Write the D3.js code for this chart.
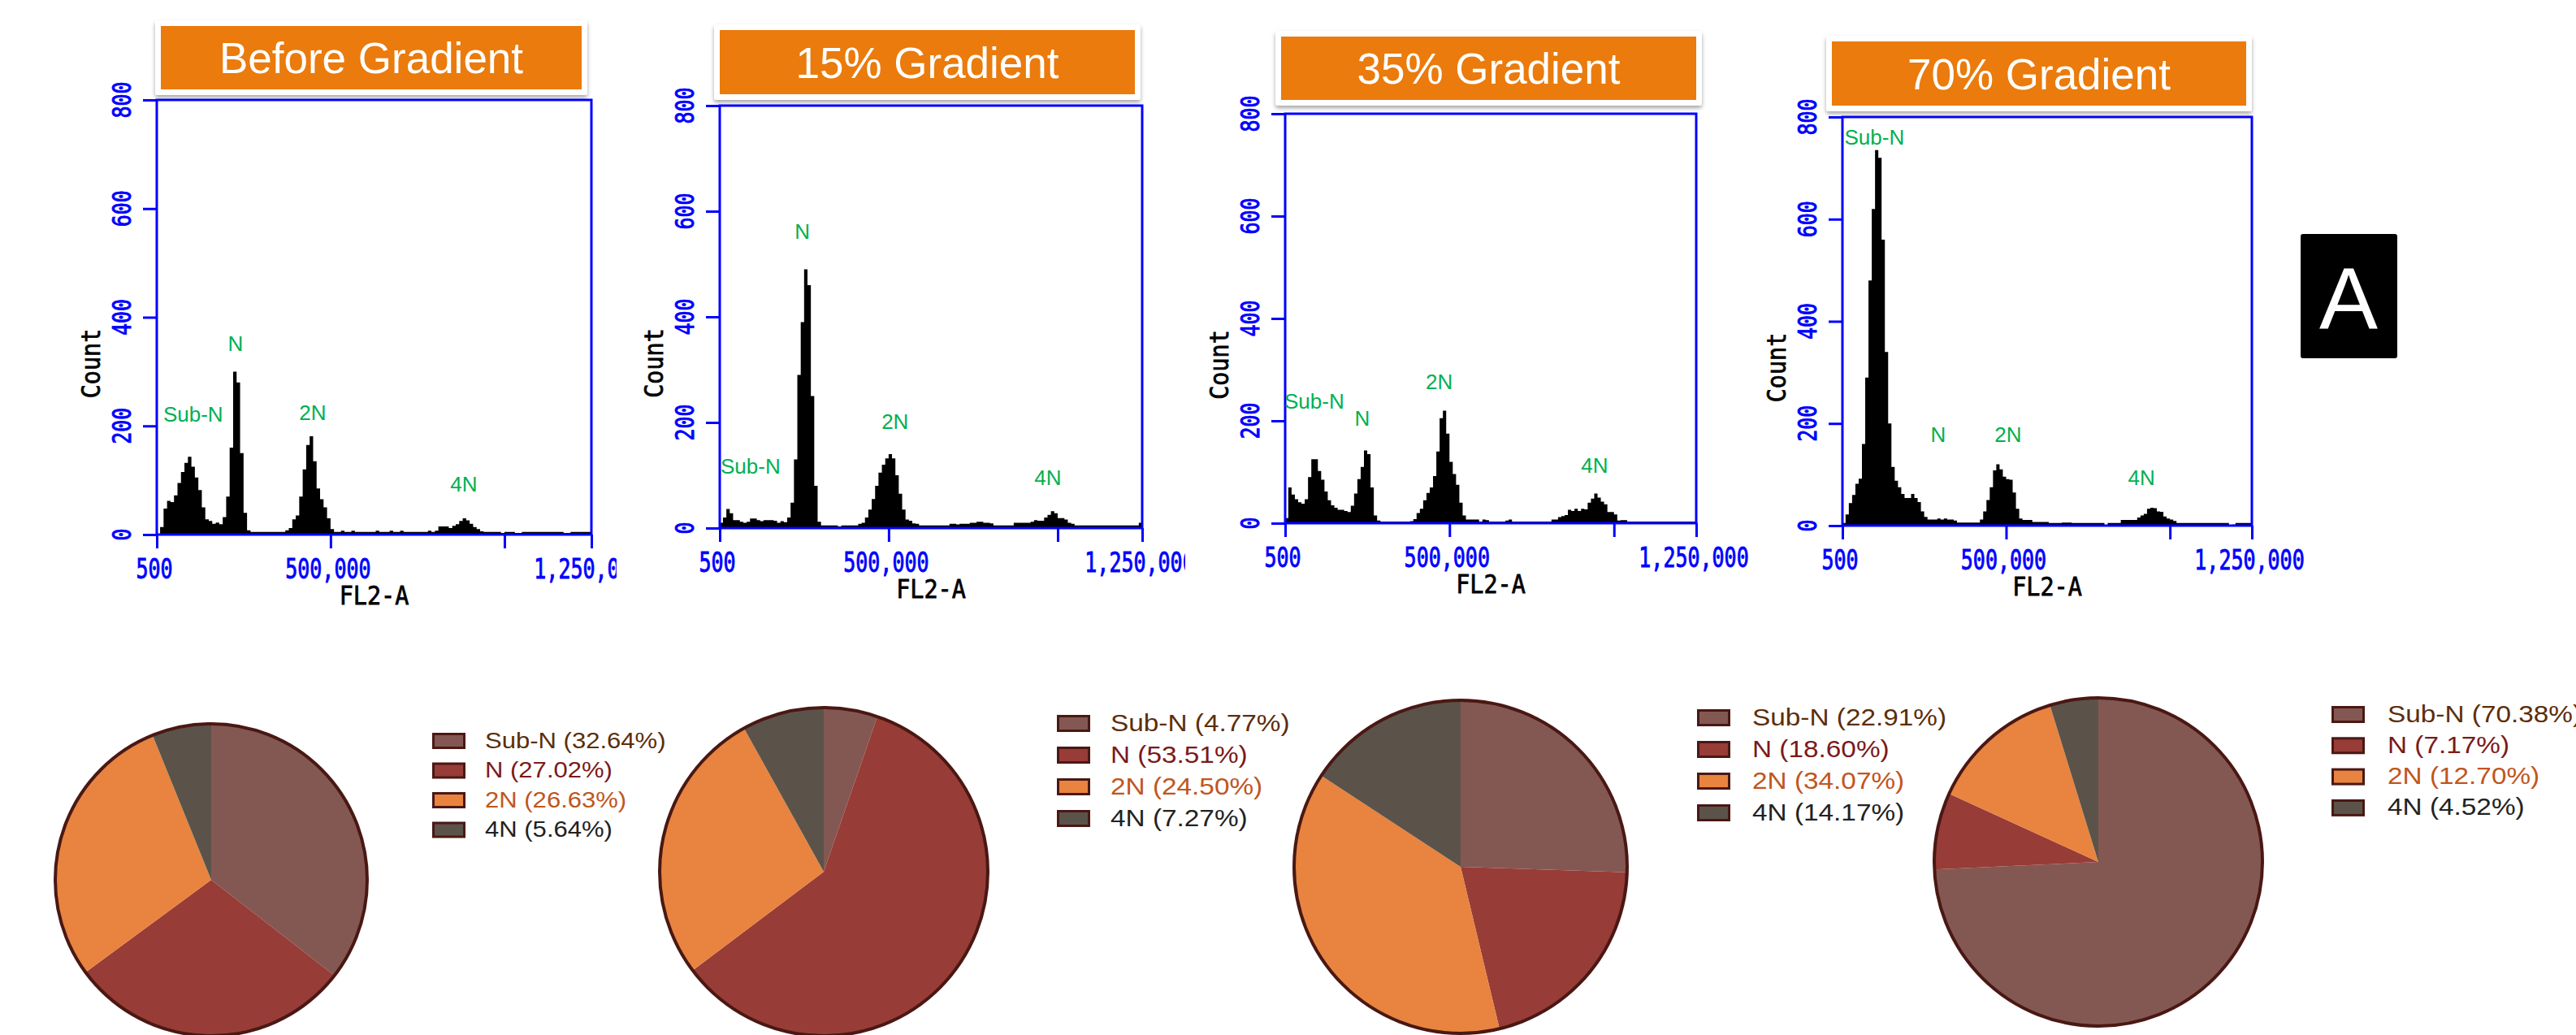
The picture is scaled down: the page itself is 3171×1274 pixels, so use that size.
<!DOCTYPE html>
<html>
<head>
<meta charset="utf-8">
<script src="https://cdn.jsdelivr.net/npm/d3@7.9.0/dist/d3.min.js"></script>
<style>
  html, body { margin: 0; padding: 0; background: #fff; overflow: hidden; }
  text { font-family: "Liberation Sans", Arial, sans-serif; }
  .mono { font-family: "DejaVu Sans Mono", "Liberation Mono", monospace; stroke-width: 0.7px; }
</style>
</head>
<body>
<svg id="fig" width="3171" height="1274"></svg>
<script>
// ---- data ----
const titles = ['Before Gradient', '15% Gradient', '35% Gradient', '70% Gradient'];
const phases = ['Sub-N', 'N', '2N', '4N'];

// FL2-A histograms, one count per 10,000-wide channel bin (0 .. 1,250,000)
const binWidth = 10000;
const countsBefore = [
  0, 14, 48, 62, 60, 72, 95, 115, 132, 143,
  125, 105, 82, 50, 28, 25, 20, 22, 19, 32,
  70, 160, 300, 280, 150, 40, 8, 5, 5, 5,
  5, 5, 5, 5, 5, 5, 5, 8, 12, 28,
  35, 70, 120, 165, 181, 135, 85, 65, 50, 30,
  10, 5, 5, 7, 5, 5, 7, 5, 5, 5,
  5, 5, 5, 7, 5, 5, 5, 7, 5, 5,
  7, 5, 5, 5, 5, 5, 5, 5, 7, 5,
  7, 15, 15, 15, 12, 16, 19, 25, 30, 26,
  20, 14, 10, 6, 5, 5, 5, 5, 5, 3,
  5, 5, 5, 3, 3, 5, 5, 5, 5, 5,
  5, 5, 5, 5, 5, 5, 5, 3, 3, 5,
  5, 5, 5, 5, 5
];
const counts15 = [
  10, 20, 36, 28, 15, 15, 12, 10, 12, 18,
  18, 15, 13, 15, 15, 15, 14, 10, 13, 11,
  20, 48, 130, 290, 390, 490, 460, 250, 80, 12,
  5, 5, 5, 5, 5, 3, 5, 5, 5, 5,
  5, 8, 10, 20, 35, 55, 80, 105, 120, 132,
  140, 132, 100, 65, 35, 16, 14, 9, 8, 5,
  5, 5, 5, 5, 5, 5, 5, 5, 8, 8,
  7, 8, 8, 8, 10, 10, 12, 12, 10, 10,
  9, 5, 5, 5, 5, 5, 5, 10, 10, 10,
  10, 10, 12, 15, 14, 14, 20, 25, 32, 28,
  19, 19, 16, 10, 8, 5, 5, 5, 5, 5,
  5, 5, 5, 5, 5, 5, 5, 5, 5, 5,
  5, 5, 5, 5, 10
];
const counts35 = [
  10, 70, 56, 47, 41, 38, 47, 90, 125, 125,
  102, 85, 62, 45, 35, 30, 26, 26, 24, 22,
  34, 58, 86, 110, 142, 135, 70, 15, 5, 3,
  3, 3, 3, 3, 3, 3, 3, 3, 4, 8,
  20, 28, 45, 59, 70, 92, 140, 205, 220, 175,
  120, 96, 75, 40, 15, 7, 7, 7, 7, 3,
  7, 6, 3, 3, 3, 3, 3, 5, 7, 3,
  3, 3, 3, 3, 3, 3, 3, 3, 3, 3,
  3, 7, 7, 12, 14, 16, 26, 24, 28, 24,
  28, 27, 40, 48, 58, 50, 42, 37, 22, 22,
  17, 5, 6, 6, 3, 3, 3, 3, 3, 3,
  3, 3, 3, 3, 3, 3, 3, 3, 3, 3,
  3, 3, 3, 3, 3
];
const counts70 = [
  5, 22, 44, 60, 82, 92, 160, 290, 480, 620,
  735, 720, 560, 340, 200, 115, 88, 75, 62, 54,
  54, 62, 54, 46, 28, 17, 12, 12, 12, 14,
  12, 14, 12, 12, 10, 6, 6, 6, 6, 6,
  6, 6, 12, 28, 50, 75, 108, 120, 110, 96,
  91, 90, 65, 33, 14, 11, 11, 11, 7, 7,
  7, 7, 7, 5, 5, 5, 5, 6, 6, 6,
  5, 5, 5, 5, 5, 5, 5, 5, 5, 5,
  1, 5, 5, 5, 5, 11, 11, 11, 11, 11,
  16, 20, 23, 33, 35, 34, 28, 27, 18, 14,
  12, 9, 5, 5, 5, 5, 5, 5, 5, 5,
  5, 5, 5, 5, 5, 5, 5, 5, 1, 2,
  5, 5, 5, 5, 5
];

// peak annotations: [FL2-A value, count] where each label sits
const peakPosBefore = [[105000, 208], [226600, 338], [448500, 211], [883000, 79]];
const peakPos15 = [[91400, 103], [245000, 548], [519000, 188], [971000, 82]];
const peakPos35 = [[89000, 224], [235000, 190], [469000, 262], [941000, 98]];
const peakPos70 = [[98000, 746], [293000, 164], [506000, 164], [913000, 80]];

// cell-cycle percentages shown in the pies
const pctBefore = [32.64, 27.02, 26.63, 5.64];
const pct15 = [4.77, 53.51, 24.50, 7.27];
const pct35 = [22.91, 18.60, 34.07, 14.17];
const pct70 = [70.38, 7.17, 12.70, 4.52];

const yTicks = [0, 200, 400, 600, 800];
const xTicks = [500, 500000, 1000000, 1250000];
const xTickLabels = ['500', '500,000', '', '1,250,000'];

const counts = [countsBefore, counts15, counts35, counts70];
const peakPos = [peakPosBefore, peakPos15, peakPos35, peakPos70];
const pcts = [pctBefore, pct15, pct35, pct70];

const sliceColors = ['#845852', '#983c37', '#e8843f', '#5b5349'];
const legendTextColors = ['#5c2e0b', '#7b1a1a', '#c0561e', '#222222'];
const outline = '#4a1814';

// panel layout (pixel boxes)
const layout = [
  {left: 193, right: 728, top: 123, bottom: 658, clipRight: 759,
   box: {x: 198, y: 32, w: 518, h: 78},
   pie: {cx: 260, cy: 1083, r: 192},
   legend: {sx: 532, tx: 597, top: 902, step: 36.5, fs: 27, sh: 20}},
  {left: 886, right: 1406, top: 130, bottom: 650, clipRight: 1459,
   box: {x: 886, y: 37, w: 511, h: 79},
   pie: {cx: 1014, cy: 1073, r: 202},
   legend: {sx: 1301, tx: 1367, top: 880, step: 39, fs: 29, sh: 21}},
  {left: 1582, right: 2088, top: 140, bottom: 644, clipRight: null,
   box: {x: 1577, y: 45, w: 511, h: 78},
   pie: {cx: 1798, cy: 1067, r: 205},
   legend: {sx: 2089, tx: 2157, top: 873, step: 39, fs: 29, sh: 21}},
  {left: 2268, right: 2772, top: 144, bottom: 647, clipRight: null,
   box: {x: 2255, y: 51, w: 510, h: 79},
   pie: {cx: 2583, cy: 1061, r: 202},
   legend: {sx: 2870, tx: 2939, top: 869, step: 38.3, fs: 29, sh: 21}}
];

const blue = '#0000ff';
const svg = d3.select('#fig');
const defs = svg.append('defs');
defs.append('filter').attr('id', 'shadow')
  .attr('x', '-5%').attr('y', '-10%').attr('width', '110%').attr('height', '130%')
  .append('feDropShadow')
  .attr('dx', 0).attr('dy', 3).attr('stdDeviation', 2.5)
  .attr('flood-color', '#000').attr('flood-opacity', 0.35);

layout.forEach((L, p) => {
  const g = svg.append('g');
  const x = d3.scaleLinear().domain([500, 1250000]).range([L.left, L.right]);
  const y = d3.scaleLinear().domain([0, 800]).range([L.bottom, L.top]);

  // histogram
  const bins = counts[p].map((c, i) => ({x0: Math.max(500, i * binWidth), c}));
  bins.push({x0: counts[p].length * binWidth, c: counts[p][counts[p].length - 1]});
  const area = d3.area()
    .x(d => x(Math.min(d.x0, 1250000)))
    .y0(y(0))
    .y1(d => y(d.c))
    .curve(d3.curveStepAfter);
  g.append('path').datum(bins).attr('d', area).attr('fill', '#000');

  // frame
  g.append('rect')
    .attr('x', L.left).attr('y', L.top)
    .attr('width', L.right - L.left).attr('height', L.bottom - L.top)
    .attr('fill', 'none').attr('stroke', blue).attr('stroke-width', 3);

  // y axis ticks
  const ya = g.append('g').attr('transform', `translate(${L.left},0)`)
    .call(d3.axisLeft(y).tickValues(yTicks).tickSize(17).tickFormat(''));
  ya.select('.domain').remove();
  ya.selectAll('line').attr('stroke', blue).attr('stroke-width', 3);

  g.selectAll('.ylab').data(yTicks).join('text')
    .attr('class', 'mono')
    .attr('transform', d => `translate(${L.left - 32},${y(d)}) rotate(-90) scale(1,1.3)`)
    .attr('text-anchor', 'middle')
    .attr('font-size', 25)
    .attr('fill', blue).attr('stroke', blue)
    .text(d => d);

  // x axis ticks
  const xa = g.append('g').attr('transform', `translate(0,${L.bottom})`)
    .call(d3.axisBottom(x).tickValues(xTicks).tickSize(17).tickFormat(''));
  xa.select('.domain').remove();
  xa.selectAll('line').attr('stroke', blue).attr('stroke-width', 3);

  const xl = g.append('g');
  if (L.clipRight) {
    defs.append('clipPath').attr('id', 'clip' + p)
      .append('rect').attr('x', 0).attr('y', 0).attr('width', L.clipRight).attr('height', 1274);
    xl.attr('clip-path', `url(#clip${p})`);
  }
  xl.selectAll('text').data(xTicks).join('text')
    .attr('class', 'mono')
    .attr('transform', d => `translate(${x(d) - 3},${L.bottom + 54}) scale(1,1.35)`)
    .attr('text-anchor', 'middle')
    .attr('font-size', 25)
    .attr('fill', blue).attr('stroke', blue)
    .text((d, i) => xTickLabels[i]);

  // axis titles
  g.append('text').attr('class', 'mono')
    .attr('transform', `translate(${L.left - 70},${(L.top + L.bottom) / 2 + 57}) rotate(-90) scale(1,1.1)`)
    .attr('text-anchor', 'middle').attr('font-size', 28.5)
    .attr('fill', '#000').attr('stroke', '#000')
    .text('Count');
  g.append('text').attr('class', 'mono')
    .attr('transform', `translate(${(L.left + L.right) / 2},${L.bottom + 86}) scale(1,1.1)`)
    .attr('text-anchor', 'middle').attr('font-size', 28.5)
    .attr('fill', '#000').attr('stroke', '#000')
    .text('FL2-A');

  // peak labels
  g.selectAll('.peak').data(peakPos[p]).join('text')
    .attr('x', d => x(d[0])).attr('y', d => y(d[1]))
    .attr('text-anchor', 'middle')
    .attr('font-size', 26)
    .attr('fill', '#00b050')
    .text((d, i) => phases[i]);

  // title box
  const B = L.box;
  g.append('rect')
    .attr('x', B.x - 7).attr('y', B.y - 7).attr('width', B.w + 14).attr('height', B.h + 14)
    .attr('rx', 3).attr('fill', '#fff').attr('filter', 'url(#shadow)');
  g.append('rect')
    .attr('x', B.x).attr('y', B.y).attr('width', B.w).attr('height', B.h)
    .attr('fill', '#ea7b0c');
  g.append('text')
    .attr('x', B.x + B.w / 2).attr('y', B.y + B.h / 2 + 19)
    .attr('text-anchor', 'middle').attr('font-size', 53).attr('fill', '#fff')
    .text(titles[p]);

  // pie
  const P = L.pie;
  const pie = d3.pie().sort(null).value(d => d);
  const arc = d3.arc().innerRadius(0).outerRadius(P.r);
  const pg = svg.append('g').attr('transform', `translate(${P.cx},${P.cy})`);
  pg.selectAll('path').data(pie(pcts[p])).join('path')
    .attr('d', arc)
    .attr('fill', (d, i) => sliceColors[i]);
  pg.append('circle').attr('r', P.r)
    .attr('fill', 'none').attr('stroke', outline).attr('stroke-width', 4);

  // legend
  const Lg = L.legend;
  const lg = svg.append('g');
  const rows = lg.selectAll('g').data(pcts[p]).join('g')
    .attr('transform', (d, i) => `translate(0,${Lg.top + i * Lg.step})`);
  rows.append('rect')
    .attr('x', Lg.sx + 1.5).attr('y', 1.5)
    .attr('width', 38).attr('height', Lg.sh - 3)
    .attr('fill', (d, i) => sliceColors[i])
    .attr('stroke', outline).attr('stroke-width', 3);
  rows.append('text')
    .attr('transform', `translate(${Lg.tx},${Lg.sh - 1.5}) scale(1.15,1)`)
    .attr('font-size', Lg.fs)
    .attr('fill', (d, i) => legendTextColors[i])
    .text((d, i) => `${phases[i]} (${d.toFixed(2)}%)`);
});

// panel tag
svg.append('rect').attr('x', 2832).attr('y', 288).attr('width', 119).attr('height', 153)
  .attr('rx', 3).attr('fill', '#000');
svg.append('text').attr('x', 2891).attr('y', 405)
  .attr('text-anchor', 'middle').attr('font-size', 108).attr('fill', '#fff')
  .text('A');
</script>
</body>
</html>
